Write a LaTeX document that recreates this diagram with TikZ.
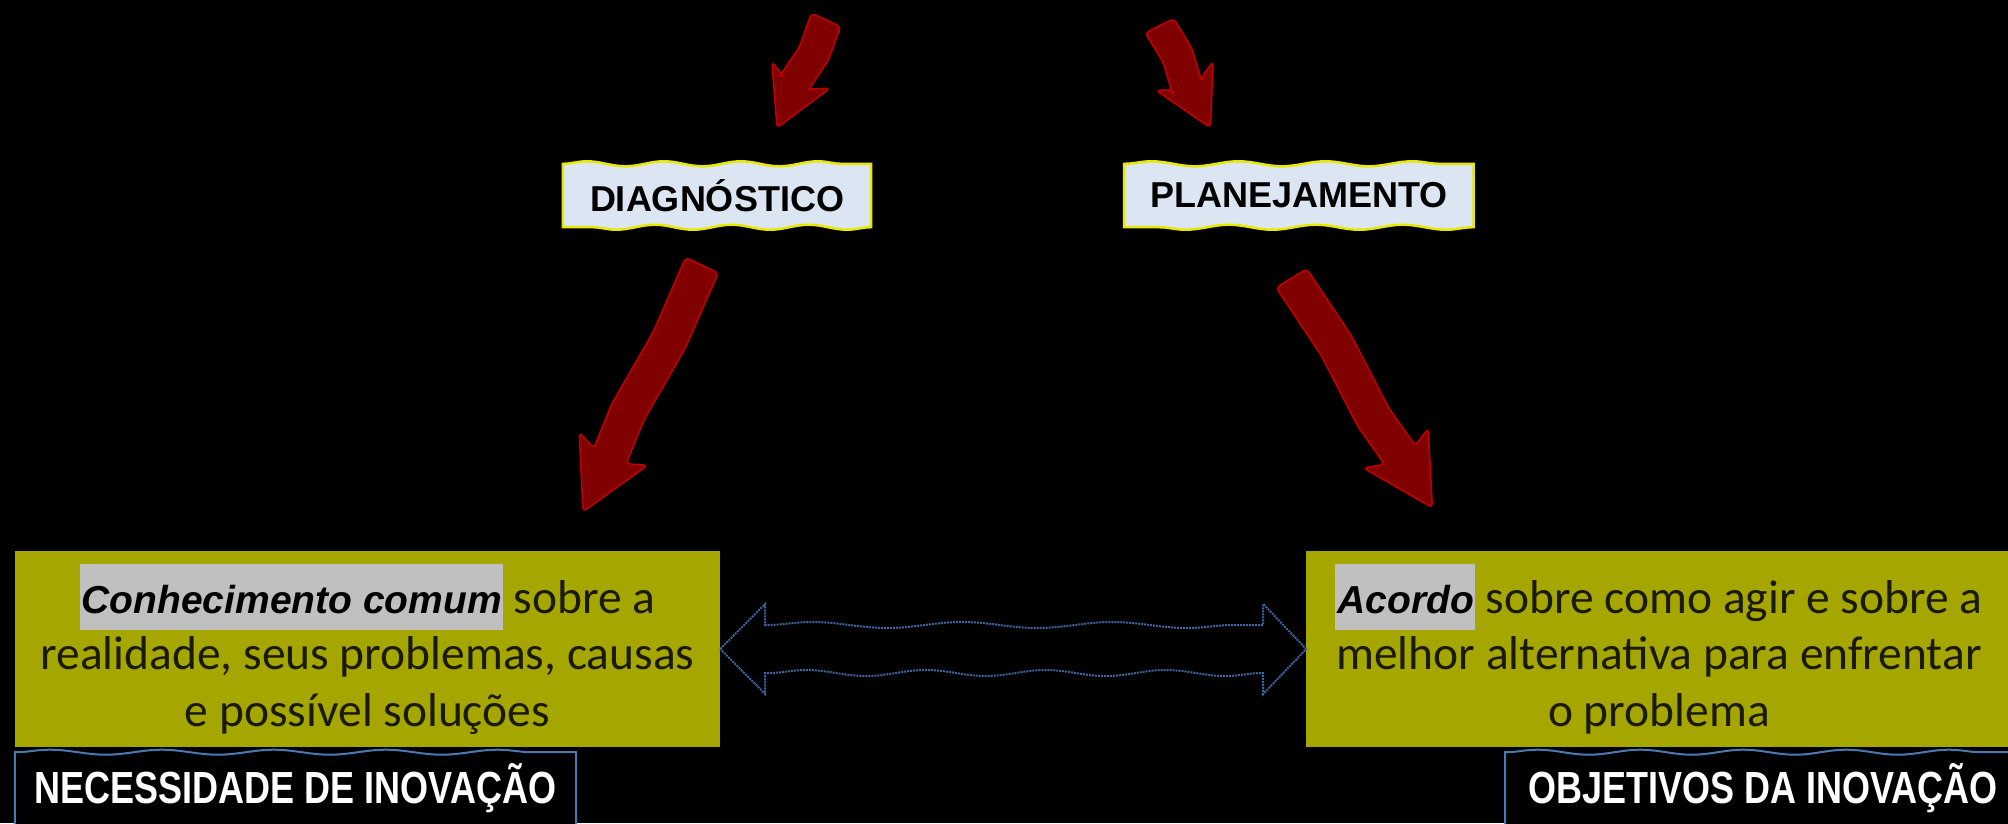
\documentclass[tikz,border=0pt]{standalone}
\usepackage{fontspec}
\setmainfont{Carlito}
\newfontfamily\arialfont{Liberation Sans}
\newfontfamily\narrowfont[FakeStretch=0.8]{Liberation Sans}
\usepackage{tikz}
\usetikzlibrary{positioning, calc, decorations.pathmorphing, backgrounds}
\definecolor{olivebox}{HTML}{A6A600}
\definecolor{boxtext}{HTML}{1A1A00}
\definecolor{hlgray}{HTML}{C0C0C0}
\definecolor{arrowred}{HTML}{800000}
\definecolor{arrowedge}{HTML}{C00000}
\definecolor{tagfill}{HTML}{DCE6F2}
\definecolor{tagedge}{HTML}{E8E800}
\definecolor{labeledge}{HTML}{4A78B5}
\definecolor{linkblue}{HTML}{4064A0}
\tikzset{
  idea box/.style={
    fill=olivebox, draw=none,
    minimum width=705pt, minimum height=196pt,
    inner sep=0pt, align=center, text=boxtext,
    font=\fontsize{47.5}{56.5}\selectfont
  },
  phase tag/.style={
    minimum height=63pt, inner sep=0pt, text=black,
    font=\arialfont\bfseries\fontsize{36}{40}\selectfont
  },
  result tag/.style={
    minimum height=72pt, inner sep=0pt, text=white, anchor=north west,
    font=\narrowfont\bfseries\fontsize{45}{50}\selectfont
  },
  tag frame/.style={fill=tagfill, draw=tagedge, line width=2.5pt},
  label frame/.style={fill=black, draw=labeledge, line width=2pt},
  wave/.style={decoration={snake, amplitude=2.5pt, segment length=#1}},
  red arrow/.style={
    fill=arrowred, draw=arrowedge, line width=1.5pt,
    line join=round, rounded corners=4pt
  },
  link arrow/.style={draw=linkblue, line width=2pt, densely dotted}
}
% gray highlight behind the key word
\newcommand{\hl}[1]{{\setlength{\fboxsep}{0pt}\colorbox{hlgray}{\rule[-17pt]{0pt}{66pt}\hspace{2pt}\arialfont\bfseries\itshape\fontsize{39}{40}\selectfont\color{black}#1\hspace{1pt}}}}
% wavy frame drawn behind a node: node, style, wave length, extra depth
\newcommand{\wavyframe}[4]{%
  \begin{scope}[on background layer]
    \path[#2] ($(#1.south west)+(0,#4)$) -- (#1.north west)
      decorate[wave=#3]{-- (#1.north east)} -- ($(#1.south east)+(0,#4)$)
      decorate[wave=#3]{-- ($(#1.south west)+(0,#4)$)} -- cycle;
  \end{scope}
}
% wobbly block arrow: tail, tip, shaft half width, head half width, head length
\newcommand{\wavyarrow}[5]{%
  \pgfmathsetlengthmacro\wawide{#3+3pt}%
  \pgfmathsetlengthmacro\wanarrow{#3-3pt}%
  \pgfmathsetlengthmacro\waback{#5+8pt}%
  \coordinate (wa1) at ($(#1)!0.3!(#2)$);
  \coordinate (wa2) at ($(#1)!0.6!(#2)$);
  \coordinate (wab) at ($(#2)!#5!(#1)$);
  \coordinate (wac) at ($(#2)!\waback!(#1)$);
  \coordinate (l0) at ($(#1)!#3!90:(#2)$);
  \coordinate (l1) at ($(wa1)!\wawide!90:(#2)$);
  \coordinate (l2) at ($(wa2)!\wanarrow!90:(#2)$);
  \coordinate (l3) at ($(wab)!#3!90:(#2)$);
  \coordinate (l4) at ($(wac)!#4!90:(#2)$);
  \coordinate (r0) at ($(#1)!#3!270:(#2)$);
  \coordinate (r1) at ($(wa1)!\wanarrow!270:(#2)$);
  \coordinate (r2) at ($(wa2)!\wawide!270:(#2)$);
  \coordinate (r3) at ($(wab)!#3!270:(#2)$);
  \coordinate (r4) at ($(wac)!#4!270:(#2)$);
  \path[red arrow] (l0) -- (l1) -- (l2) -- (l3) -- (l4) -- (#2)
    -- (r4) -- (r3) -- (r2) -- (r1) -- (r0) -- cycle;
}

\begin{document}
\begin{tikzpicture}[x=1pt, y=-1pt]
  \useasboundingbox (0,0) rectangle (2008,823);
  \begin{scope}[on background layer]
    \fill[black] (0,0) rectangle (2008,823);
  \end{scope}
  \clip (0,0) rectangle (2008,823);

  % Boxes
  \node[idea box] (need) at (367.5,649)
    {\hl{Conhecimento comum} sobre a\\realidade, seus problemas, causas\\e possível soluções};
  \node[idea box, right=586pt of need] (goal)
    {\hl{Acordo} sobre como agir e sobre a\\melhor alternativa para enfrentar\\o problema};

  % Phases
  \node[phase tag, minimum width=308pt] (diag) at (717,195.5) {DIAGNÓSTICO};
  \node[phase tag, minimum width=349pt, right=253pt of diag] (plan) {PLANEJAMENTO};
  \wavyframe{diag}{tag frame}{77pt}{0}
  \wavyframe{plan}{tag frame}{87pt}{0}

  % Labels
  \node[result tag, minimum width=561pt] (needlabel) at ($(need.south west)+(0,5)$) {NECESSIDADE DE INOVAÇÃO};
  \node[result tag, minimum width=515pt] (goallabel) at ($(goal.south west)+(199,5)$) {OBJETIVOS DA INOVAÇÃO};
  \wavyframe{needlabel}{label frame}{112pt}{20}
  \wavyframe{goallabel}{label frame}{103pt}{20}

  % Arrows
  \coordinate (difrom) at ($(diag.north)+(109,-144)$);
  \coordinate (dito)   at ($(diag.north)+(60,-36)$);
  \coordinate (plfrom) at ($(plan.north)+(-139.5,-138)$);
  \coordinate (plto)   at ($(plan.north)+(-88.5,-36)$);
  \coordinate (diout)  at ($(diag.south)+(-15,38)$);
  \coordinate (needin) at ($(need.north)+(215.5,-39)$);
  \coordinate (plout)  at ($(plan.south)+(-7.5,51)$);
  \coordinate (goalin) at ($(goal.north)+(-226.5,-43)$);
  \wavyarrow{difrom}{dito}{16pt}{32pt}{50pt}
  \wavyarrow{plfrom}{plto}{16pt}{32pt}{50pt}
  \wavyarrow{diout}{needin}{18pt}{38pt}{62pt}
  \wavyarrow{plout}{goalin}{18pt}{38pt}{62pt}

  \draw[link arrow] (need.east) -- ($(need.east)+(45,-45)$) -- ($(need.east)+(45,-24)$)
    decorate[decoration={snake, amplitude=3pt, segment length=150pt}]{-- ($(goal.west)+(-43,-24)$)}
    -- ($(goal.west)+(-43,-45)$) -- (goal.west) -- ($(goal.west)+(-43,45)$) -- ($(goal.west)+(-43,24)$)
    decorate[decoration={snake, amplitude=3pt, segment length=120pt}]{-- ($(need.east)+(45,24)$)}
    -- ($(need.east)+(45,45)$) -- cycle;
\end{tikzpicture}
\end{document}
